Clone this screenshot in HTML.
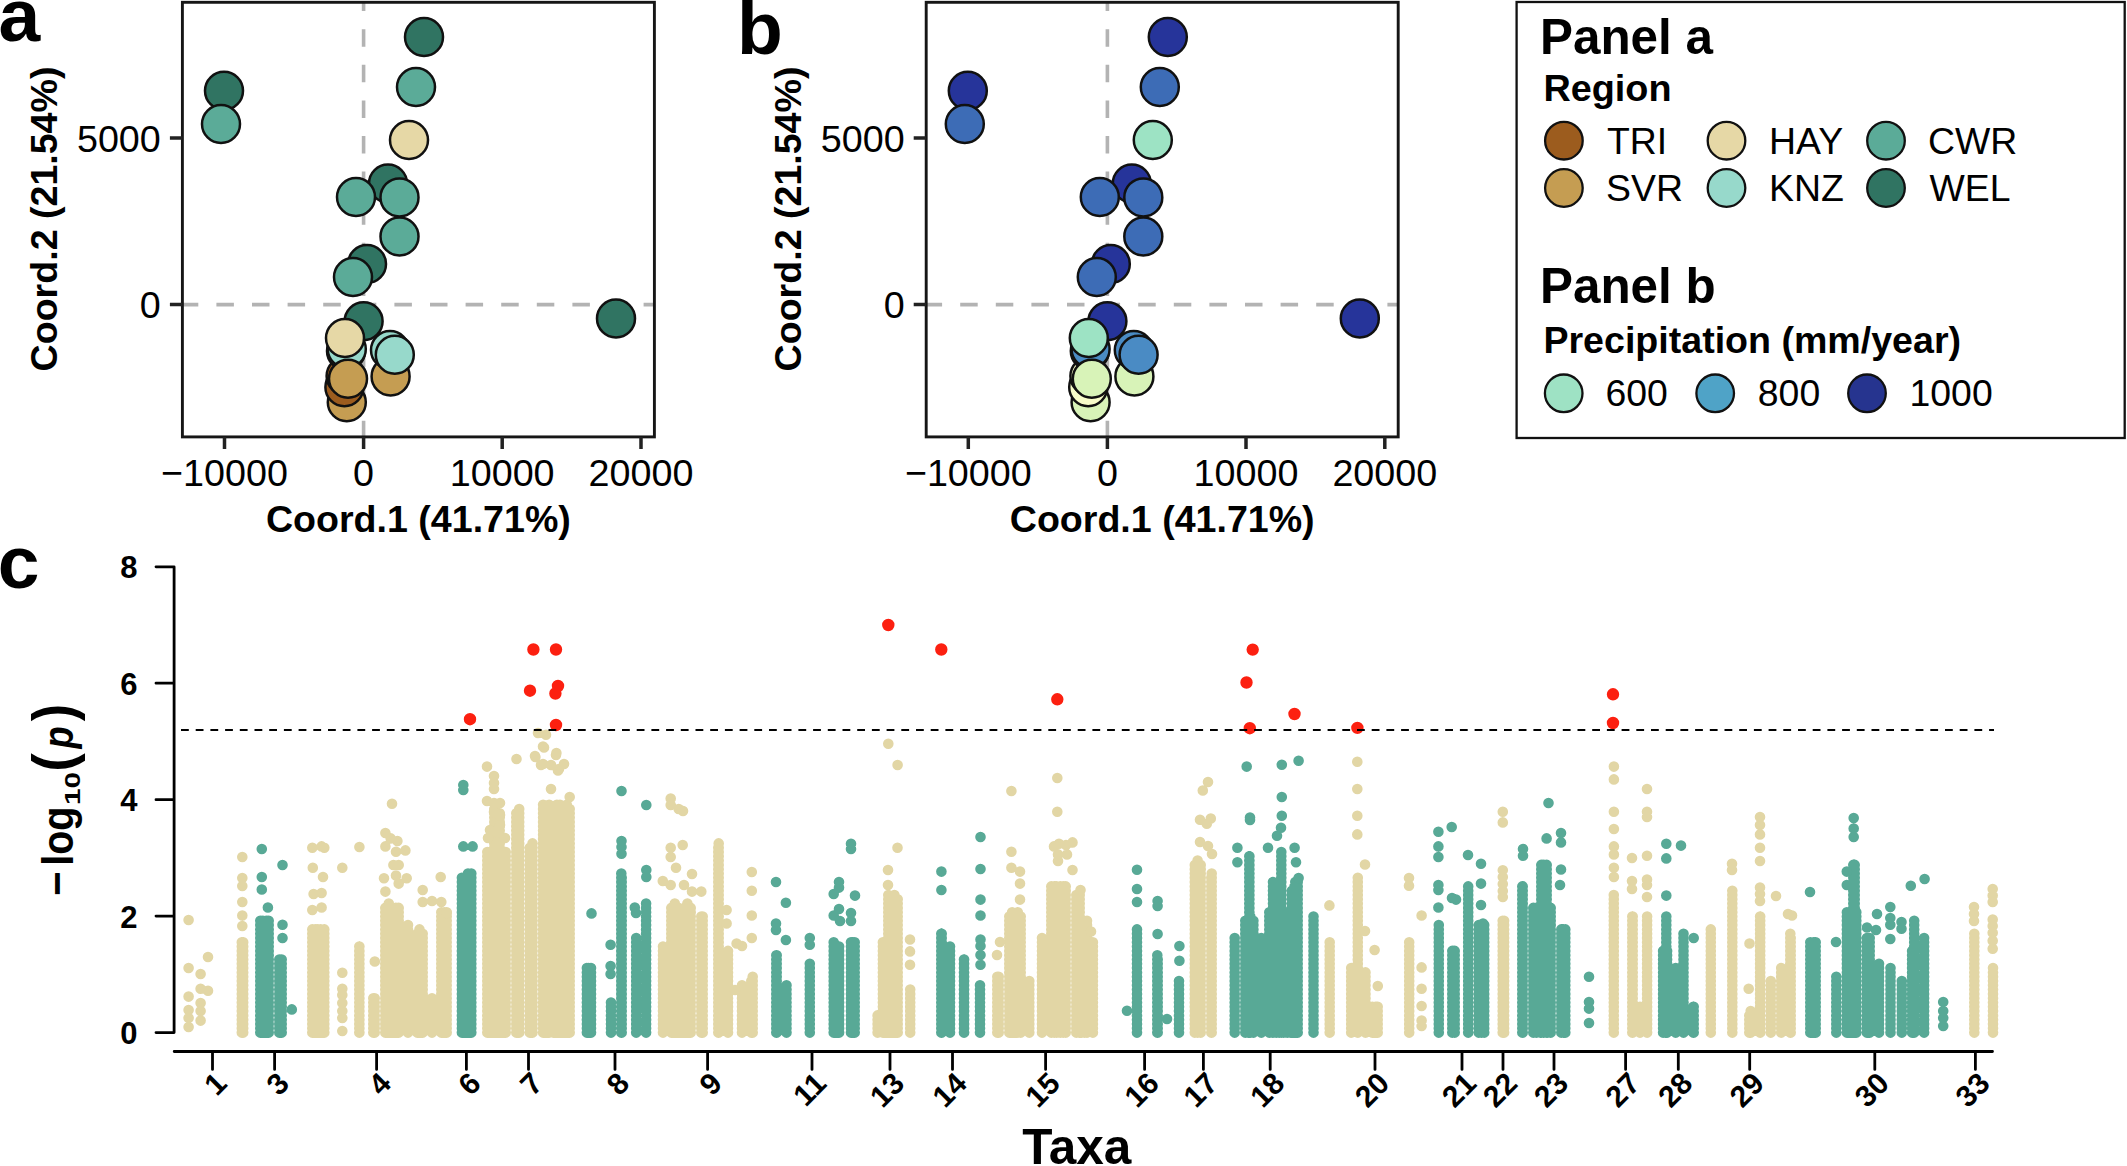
<!DOCTYPE html>
<html lang="en"><head><meta charset="utf-8"><title>Figure</title>
<style>html,body{margin:0;padding:0;background:#fff;overflow:hidden}svg{display:block}</style></head>
<body>
<svg width="2127" height="1166" viewBox="0 0 2127 1166" font-family='"Liberation Sans", sans-serif' fill="#000">
<rect width="2127" height="1166" fill="#fff"/>
<path d="M180.8 304.6H654.4M363.6 438.3V2.3" stroke="#b3b3b3" stroke-width="3.6" stroke-dasharray="17.5 18.1" fill="none"/>
<g stroke="#111" stroke-width="2.5">
<circle cx="346.8" cy="402.3" r="19" fill="#c59d52"/>
<circle cx="390.6" cy="376.4" r="19" fill="#c59d52"/>
<circle cx="344.4" cy="387.3" r="19" fill="#9c5c1e"/>
<circle cx="345.6" cy="376.0" r="19" fill="#9c5c1e"/>
<circle cx="346.0" cy="351.0" r="19" fill="#f3ecc8"/>
<circle cx="346.8" cy="349.0" r="19" fill="#97d9cb"/>
<circle cx="390.0" cy="350.0" r="19" fill="#97d9cb"/>
<circle cx="394.8" cy="354.8" r="19" fill="#97d9cb"/>
<circle cx="348.0" cy="378.8" r="19" fill="#c59d52"/>
<circle cx="363.6" cy="321.2" r="19" fill="#307462"/>
<circle cx="345.0" cy="338.0" r="19" fill="#e6d8a6"/>
<circle cx="616.0" cy="318.5" r="19" fill="#307462"/>
<circle cx="367.0" cy="264.0" r="19" fill="#307462"/>
<circle cx="353.0" cy="277.0" r="19" fill="#5bab98"/>
<circle cx="399.5" cy="236.5" r="19" fill="#5bab98"/>
<circle cx="388.0" cy="183.5" r="19" fill="#307462"/>
<circle cx="356.0" cy="197.0" r="19" fill="#5bab98"/>
<circle cx="399.5" cy="197.4" r="19" fill="#5bab98"/>
<circle cx="409.0" cy="140.0" r="19" fill="#e6d8a6"/>
<circle cx="416.0" cy="87.0" r="19" fill="#5bab98"/>
<circle cx="424.0" cy="37.0" r="19" fill="#307462"/>
<circle cx="224.0" cy="90.8" r="19" fill="#307462"/>
<circle cx="221.0" cy="124.0" r="19" fill="#5bab98"/>
</g>
<rect x="182.4" y="2.3" width="472.0" height="434.6" fill="none" stroke="#161616" stroke-width="2.9"/>
<path d="M224.5 436.9v12M363.6 436.9v12M502.2 436.9v12M641.0 436.9v12M182.4 138.0h-12.5M182.4 304.6h-12.5" stroke="#222" stroke-width="3.5" fill="none"/>
<g font-size="37.7" fill="#000">
<text x="224.5" y="485.5" text-anchor="middle">−10000</text>
<text x="363.6" y="485.5" text-anchor="middle">0</text>
<text x="502.2" y="485.5" text-anchor="middle">10000</text>
<text x="641.0" y="485.5" text-anchor="middle">20000</text>
<text x="160.8" y="151.5" text-anchor="end">5000</text>
<text x="160.8" y="318.1" text-anchor="end">0</text>
</g>
<text x="418.4" y="531.8" text-anchor="middle" font-size="37.6" font-weight="700">Coord.1 (41.71%)</text>
<text transform="translate(57.0 219) rotate(-90)" text-anchor="middle" font-size="37.6" font-weight="700">Coord.2 (21.54%)</text>
<text x="-1.5" y="40.7" font-size="75" font-weight="700">a</text>
<path d="M924.6 304.6H1398.1999999999998M1107.4 438.3V2.3" stroke="#b3b3b3" stroke-width="3.6" stroke-dasharray="17.5 18.1" fill="none"/>
<g stroke="#111" stroke-width="2.5">
<circle cx="1090.6" cy="402.3" r="19" fill="#d8f3b8"/>
<circle cx="1134.4" cy="376.4" r="19" fill="#d8f3b8"/>
<circle cx="1088.2" cy="387.3" r="19" fill="#f7fcc9"/>
<circle cx="1089.4" cy="376.0" r="19" fill="#f7fcc9"/>
<circle cx="1089.8" cy="351.0" r="19" fill="#c9efc0"/>
<circle cx="1090.6" cy="349.0" r="19" fill="#4a8bc4"/>
<circle cx="1133.8" cy="350.0" r="19" fill="#4a8bc4"/>
<circle cx="1138.6" cy="354.8" r="19" fill="#4a8bc4"/>
<circle cx="1091.8" cy="378.8" r="19" fill="#d8f3b8"/>
<circle cx="1107.4" cy="321.2" r="19" fill="#26349a"/>
<circle cx="1088.8" cy="338.0" r="19" fill="#9de3c4"/>
<circle cx="1359.8" cy="318.5" r="19" fill="#26349a"/>
<circle cx="1110.8" cy="264.0" r="19" fill="#26349a"/>
<circle cx="1096.8" cy="277.0" r="19" fill="#3d6cb6"/>
<circle cx="1143.3" cy="236.5" r="19" fill="#3d6cb6"/>
<circle cx="1131.8" cy="183.5" r="19" fill="#26349a"/>
<circle cx="1099.8" cy="197.0" r="19" fill="#3d6cb6"/>
<circle cx="1143.3" cy="197.4" r="19" fill="#3d6cb6"/>
<circle cx="1152.8" cy="140.0" r="19" fill="#9de3c4"/>
<circle cx="1159.8" cy="87.0" r="19" fill="#3d6cb6"/>
<circle cx="1167.8" cy="37.0" r="19" fill="#26349a"/>
<circle cx="967.8" cy="90.8" r="19" fill="#26349a"/>
<circle cx="964.8" cy="124.0" r="19" fill="#3d6cb6"/>
</g>
<rect x="926.1999999999999" y="2.3" width="472.0" height="434.6" fill="none" stroke="#161616" stroke-width="2.9"/>
<path d="M968.3 436.9v12M1107.4 436.9v12M1246.0 436.9v12M1384.8 436.9v12M926.1999999999999 138.0h-12.5M926.1999999999999 304.6h-12.5" stroke="#222" stroke-width="3.5" fill="none"/>
<g font-size="37.7" fill="#000">
<text x="968.3" y="485.5" text-anchor="middle">−10000</text>
<text x="1107.4" y="485.5" text-anchor="middle">0</text>
<text x="1246.0" y="485.5" text-anchor="middle">10000</text>
<text x="1384.8" y="485.5" text-anchor="middle">20000</text>
<text x="904.6" y="151.5" text-anchor="end">5000</text>
<text x="904.6" y="318.1" text-anchor="end">0</text>
</g>
<text x="1162.2" y="531.8" text-anchor="middle" font-size="37.6" font-weight="700">Coord.1 (41.71%)</text>
<text transform="translate(800.8 219) rotate(-90)" text-anchor="middle" font-size="37.6" font-weight="700">Coord.2 (21.54%)</text>
<text x="737" y="54.3" font-size="75" font-weight="700">b</text>
<rect x="1516.6" y="2" width="608.1" height="436" fill="#fff" stroke="#111" stroke-width="2.3"/>
<text x="1540" y="54.2" font-size="49.4" font-weight="700">Panel a</text>
<text x="1543.4" y="101" font-size="37.8" font-weight="700">Region</text>
<text x="1540" y="303" font-size="49.4" font-weight="700">Panel b</text>
<text x="1543.4" y="353" font-size="37.6" font-weight="700">Precipitation (mm/year)</text>
<g stroke="#111" stroke-width="2.3">
<circle cx="1563.9" cy="140.7" r="18.8" fill="#9c5c1e"/>
<circle cx="1563.9" cy="188" r="18.8" fill="#c59d52"/>
<circle cx="1726.5" cy="140.7" r="18.8" fill="#e6d8a6"/>
<circle cx="1726.5" cy="188" r="18.8" fill="#97d9cb"/>
<circle cx="1886" cy="140.7" r="18.8" fill="#5bab98"/>
<circle cx="1886" cy="188" r="18.8" fill="#307462"/>
<circle cx="1563.7" cy="393.3" r="18.8" fill="#9ee2c4"/>
<circle cx="1715.2" cy="393.3" r="18.8" fill="#4fa3c7"/>
<circle cx="1867" cy="393.3" r="18.8" fill="#26348f"/>
</g>
<g font-size="37.4">
<text x="1607" y="153.6">TRI</text>
<text x="1606" y="200.8">SVR</text>
<text x="1769" y="153.6">HAY</text>
<text x="1769" y="200.8">KNZ</text>
<text x="1928" y="153.6">CWR</text>
<text x="1929.5" y="200.8">WEL</text>
<text x="1605.5" y="406">600</text>
<text x="1757.8" y="406">800</text>
<text x="1909.5" y="406">1000</text>
</g>
<path d="M241.8 1032.6V941.7M243.2 1032.6V941.4M312.3 1032.6V929.1M315.3 1032.6V926.3M317.8 1032.6V928.2M320.7 1032.6V929.1M324.3 1032.6V928.7M359.3 1032.6V946.4M359.4 1032.6V946.5M373.3 1032.6V995.1M374.7 1032.6V996.0M385.3 1032.6V904.1M388.8 1032.6V903.4M392.1 1032.6V908.1M395.9 1032.6V904.5M398.7 1032.6V904.0M408.0 1032.6V924.0M417.3 1032.6V930.9M419.5 1032.6V929.2M422.7 1032.6V930.9M432.0 1032.6V995.9M441.3 1032.6V909.7M444.2 1032.6V911.1M446.7 1032.6V910.0M487.3 1032.6V851.4M489.8 1032.6V848.7M493.6 1032.6V849.6M496.3 1032.6V851.1M499.5 1032.6V852.1M503.0 1032.6V850.2M505.7 1032.6V851.7M494.3 1032.6V807.8M497.0 1032.6V809.0M499.7 1032.6V809.1M516.3 1032.6V809.8M519.2 1032.6V808.9M529.8 1032.6V844.3M532.5 1032.6V842.5M543.1 1032.6V803.6M546.0 1032.6V805.7M549.2 1032.6V804.0M553.4 1032.6V805.1M556.9 1032.6V804.5M560.0 1032.6V802.8M563.1 1032.6V804.7M566.8 1032.6V803.8M569.7 1032.6V804.7M663.0 1032.6V944.2M671.3 1032.6V906.1M674.8 1032.6V903.2M678.4 1032.6V907.0M680.7 1032.6V908.1M684.4 1032.6V905.3M687.4 1032.6V902.9M690.7 1032.6V905.1M701.3 1032.6V914.0M702.7 1032.6V913.9M718.3 1032.6V844.2M718.7 1032.6V843.0M728.0 1032.6V946.8M742.0 1032.6V984.1M751.3 1032.6V977.0M752.7 1032.6V975.5M877.6 1032.6V1013.8M882.9 1032.6V942.2M884.3 1032.6V942.9M888.3 1032.6V894.9M891.2 1032.6V896.9M894.4 1032.6V894.0M897.7 1032.6V895.1M910.2 1032.6V988.2M997.3 1032.6V973.3M998.7 1032.6V973.4M1009.3 1032.6V912.3M1012.1 1032.6V911.3M1014.7 1032.6V913.6M1017.8 1032.6V909.8M1020.7 1032.6V912.5M1029.3 1032.6V979.4M1042.0 1032.6V936.2M1051.3 1032.6V883.7M1054.3 1032.6V883.7M1056.5 1032.6V884.7M1060.3 1032.6V886.1M1063.2 1032.6V886.0M1065.7 1032.6V883.1M1076.3 1032.6V931.1M1079.3 1032.6V929.0M1081.4 1032.6V928.7M1084.7 1032.6V930.7M1076.3 1032.6V892.6M1079.7 1032.6V893.0M1087.0 1032.6V919.4M1092.9 1032.6V939.3M1194.8 1032.6V861.6M1197.6 1032.6V860.0M1200.7 1032.6V861.4M1211.3 1032.6V873.7M1211.7 1032.6V873.2M1329.7 1032.6V938.6M1357.8 1032.6V874.8M1351.2 1032.6V965.0M1365.5 1032.6V970.0M1372.3 1032.6V1002.5M1375.6 1032.6V1005.8M1377.7 1032.6V1003.2M1409.2 1032.6V939.3M1502.7 1032.6V917.4M1504.1 1032.6V917.4M1613.8 1032.6V894.0M1632.3 1032.6V912.3M1632.7 1032.6V913.5M1647.1 1032.6V914.6M1647.1 1032.6V914.3M1640.0 1032.6V1006.2M1710.8 1032.6V926.3M1732.3 1032.6V888.2M1749.3 1032.6V1011.4M1750.7 1032.6V1010.4M1760.1 1032.6V915.4M1760.2 1032.6V916.3M1770.8 1032.6V980.0M1781.2 1032.6V965.7M1790.3 1032.6V933.6M1790.7 1032.6V933.8M1974.3 1032.6V933.4M1993.0 1032.6V966.5" stroke="#e2d6a5" stroke-width="10.6" stroke-linecap="round" stroke-dasharray="0 4.3" fill="none"/>
<path d="M188.6 920.0h0M188.6 968.0h0M188.6 996.6h0M188.6 1010.0h0M188.6 1018.0h0M188.6 1027.0h0M200.6 974.0h0M200.6 988.7h0M200.6 1003.0h0M200.6 1011.0h0M200.6 1020.6h0M208.0 957.0h0M208.0 990.8h0M242.3 857.0h0M242.3 878.0h0M242.3 886.0h0M242.3 902.0h0M242.3 915.5h0M242.3 926.0h0M312.3 847.7h0M321.6 846.4h0M324.3 847.7h0M312.8 867.7h0M323.0 877.0h0M313.6 894.0h0M321.6 893.0h0M312.3 910.0h0M321.6 907.5h0M342.3 867.7h0M359.4 847.0h0M342.3 972.7h0M342.3 988.7h0M342.3 995.0h0M342.3 1003.0h0M342.3 1011.0h0M342.3 1018.0h0M342.3 1031.0h0M374.8 961.5h0M392.0 803.8h0M385.4 833.0h0M390.7 838.4h0M397.4 841.0h0M385.4 846.4h0M396.0 851.7h0M405.4 850.4h0M393.4 865.0h0M398.7 865.0h0M384.0 878.3h0M396.0 875.6h0M406.7 878.3h0M398.7 883.6h0M385.4 891.6h0M440.7 877.0h0M422.7 890.0h0M422.7 902.0h0M432.0 901.0h0M441.3 902.0h0M446.6 913.0h0M487.0 801.0h0M494.0 803.0h0M500.0 803.0h0M494.0 812.0h0M500.0 815.0h0M500.0 825.0h0M490.0 830.0h0M497.0 832.0h0M488.0 838.0h0M505.0 838.0h0M487.0 766.6h0M494.0 776.0h0M494.0 783.0h0M494.0 789.0h0M516.5 759.0h0M535.0 756.0h0M543.0 746.6h0M556.4 753.0h0M543.0 764.0h0M551.0 765.0h0M559.0 769.0h0M564.0 764.0h0M551.0 789.0h0M569.7 797.0h0M538.0 733.0h0M546.0 734.7h0M544.0 747.4h0M535.4 757.0h0M556.0 755.0h0M558.0 770.5h0M541.0 765.0h0M670.7 798.5h0M670.7 805.0h0M678.7 809.0h0M683.0 811.0h0M670.7 847.7h0M682.7 845.0h0M670.7 857.0h0M676.0 867.7h0M662.8 881.0h0M670.7 885.0h0M684.0 885.0h0M692.0 874.0h0M692.0 891.6h0M701.3 891.6h0M726.6 910.0h0M726.6 923.5h0M736.6 943.5h0M742.0 946.0h0M735.0 990.0h0M751.8 872.0h0M751.8 890.8h0M751.8 915.5h0M751.8 938.0h0M910.0 939.5h0M910.0 951.4h0M910.0 964.7h0M888.3 743.7h0M897.6 765.0h0M897.5 847.7h0M888.0 870.0h0M888.0 885.0h0M1000.0 942.0h0M997.0 955.0h0M1011.4 791.0h0M1011.4 851.7h0M1011.4 867.7h0M1020.0 871.6h0M1020.0 883.6h0M1020.0 899.6h0M1057.3 778.0h0M1057.3 811.8h0M1054.0 846.4h0M1059.0 843.7h0M1066.0 845.0h0M1072.5 842.4h0M1058.0 854.4h0M1067.0 854.4h0M1058.0 861.0h0M1072.5 870.0h0M1080.5 890.0h0M1091.0 931.5h0M1208.0 782.0h0M1202.8 790.5h0M1200.0 819.8h0M1210.8 818.5h0M1206.8 823.8h0M1200.0 842.0h0M1208.0 846.0h0M1212.0 854.0h0M1329.4 905.4h0M1357.3 761.8h0M1357.3 789.0h0M1357.3 815.8h0M1357.3 834.4h0M1365.0 864.5h0M1365.0 931.0h0M1374.6 950.0h0M1377.8 986.0h0M1409.0 878.0h0M1409.0 885.7h0M1421.6 915.5h0M1421.6 967.4h0M1421.6 988.7h0M1421.6 1006.0h0M1421.6 1020.6h0M1421.6 1026.0h0M1502.8 811.8h0M1502.8 822.4h0M1502.8 870.3h0M1502.8 877.0h0M1502.8 884.0h0M1502.8 891.0h0M1502.8 897.0h0M1613.9 766.6h0M1613.9 779.4h0M1613.9 811.8h0M1613.9 829.0h0M1613.9 846.4h0M1613.9 854.4h0M1613.9 867.7h0M1613.9 877.0h0M1632.0 858.0h0M1632.0 881.0h0M1632.0 889.0h0M1647.0 789.0h0M1647.0 811.8h0M1647.0 817.0h0M1647.0 855.7h0M1647.0 879.6h0M1647.0 885.0h0M1647.0 897.0h0M1732.0 863.7h0M1732.0 870.0h0M1749.5 943.5h0M1748.7 988.7h0M1776.0 896.0h0M1788.0 914.0h0M1792.0 915.5h0M1760.0 817.0h0M1760.0 825.0h0M1760.0 834.4h0M1760.0 847.7h0M1760.0 861.0h0M1760.0 887.6h0M1760.0 894.0h0M1760.0 901.0h0M1974.0 907.0h0M1974.0 914.0h0M1974.0 920.9h0M1992.7 889.0h0M1992.7 895.6h0M1992.7 902.0h0M1992.7 919.5h0M1992.7 926.0h0M1992.7 932.8h0M1992.7 940.8h0M1992.7 948.8h0" stroke="#e2d6a5" stroke-width="10.6" stroke-linecap="round" fill="none"/>
<path d="M260.3 1032.6V918.4M262.9 1032.6V920.4M266.3 1032.6V916.7M268.7 1032.6V919.3M279.3 1032.6V958.8M281.7 1032.6V958.7M461.9 1032.6V873.6M464.7 1032.6V874.8M468.0 1032.6V873.4M471.3 1032.6V872.1M586.9 1032.6V965.1M588.7 1032.6V964.8M591.0 1032.6V966.4M611.0 1032.6V998.9M621.3 1032.6V872.9M621.7 1032.6V873.9M636.2 1032.6V937.8M646.1 1032.6V900.2M776.3 1032.6V952.4M776.7 1032.6V952.1M786.5 1032.6V981.5M809.8 1032.6V962.7M833.7 1032.6V941.5M836.9 1032.6V943.2M839.1 1032.6V942.8M851.0 1032.6V939.3M853.2 1032.6V940.5M854.7 1032.6V938.5M941.3 1032.6V931.6M941.7 1032.6V932.1M950.0 1032.6V942.7M964.0 1032.6V958.6M964.1 1032.6V958.1M980.0 1032.6V981.4M1137.0 1032.6V926.8M1157.3 1032.6V955.0M1157.7 1032.6V955.9M1179.0 1032.6V980.2M1234.7 1032.6V933.9M1245.3 1032.6V918.0M1248.3 1032.6V921.4M1250.3 1032.6V916.3M1253.4 1032.6V917.5M1249.3 1032.6V852.5M1249.4 1032.6V852.3M1261.3 1032.6V935.6M1269.3 1032.6V911.0M1273.0 1032.6V913.7M1276.3 1032.6V909.6M1279.2 1032.6V908.2M1283.4 1032.6V913.6M1287.3 1032.6V910.7M1290.7 1032.6V910.1M1293.4 1032.6V912.7M1297.2 1032.6V909.8M1273.0 1032.6V877.9M1281.3 1032.6V848.5M1291.9 1032.6V886.5M1294.5 1032.6V885.0M1297.2 1032.6V885.6M1295.3 1032.6V881.7M1297.7 1032.6V880.6M1313.5 1032.6V915.2M1438.8 1032.6V923.5M1452.3 1032.6V948.1M1454.7 1032.6V947.1M1468.2 1032.6V884.1M1478.8 1032.6V922.3M1481.5 1032.6V922.8M1484.2 1032.6V921.3M1522.3 1032.6V883.2M1522.7 1032.6V882.7M1533.3 1032.6V903.9M1536.4 1032.6V907.1M1540.5 1032.6V905.0M1543.5 1032.6V905.5M1547.3 1032.6V905.3M1550.7 1032.6V905.5M1541.3 1032.6V861.5M1543.7 1032.6V862.9M1546.7 1032.6V861.9M1561.3 1032.6V926.7M1563.4 1032.6V926.5M1565.3 1032.6V926.7M1663.1 1032.6V948.1M1665.2 1032.6V947.2M1667.1 1032.6V947.3M1666.3 1032.6V912.8M1675.7 1032.6V965.7M1683.5 1032.6V931.2M1693.3 1032.6V1003.4M1693.7 1032.6V1003.3M1810.3 1032.6V939.2M1813.5 1032.6V939.8M1815.7 1032.6V939.2M1836.3 1032.6V974.8M1846.9 1032.6V910.4M1850.4 1032.6V913.4M1852.7 1032.6V908.2M1856.3 1032.6V910.2M1853.3 1032.6V861.4M1854.7 1032.6V861.8M1866.9 1032.6V935.9M1869.7 1032.6V937.1M1879.0 1032.6V960.9M1890.5 1032.6V964.1M1901.8 1032.6V978.6M1912.1 1032.6V950.5M1913.5 1032.6V950.4M1914.2 1032.6V920.1M1924.1 1032.6V937.6M1924.1 1032.6V937.7" stroke="#58a996" stroke-width="10.6" stroke-linecap="round" stroke-dasharray="0 4.3" fill="none"/>
<path d="M261.8 849.0h0M261.8 877.0h0M261.8 889.5h0M267.9 907.5h0M282.5 865.0h0M282.5 924.8h0M282.5 938.0h0M291.8 1009.4h0M463.3 785.0h0M463.3 790.0h0M463.3 846.4h0M472.6 846.4h0M591.5 913.4h0M610.6 944.8h0M610.6 966.0h0M610.6 974.0h0M621.5 841.0h0M621.5 847.0h0M621.5 853.7h0M621.5 791.0h0M634.8 907.5h0M636.0 913.0h0M646.3 870.0h0M646.3 877.0h0M646.3 805.0h0M776.0 882.0h0M776.0 923.5h0M776.0 930.0h0M785.9 902.8h0M785.9 940.0h0M809.8 938.0h0M809.8 944.8h0M839.0 882.0h0M839.0 887.6h0M833.7 894.0h0M839.0 909.0h0M833.7 915.5h0M840.0 921.0h0M851.0 843.7h0M851.0 849.0h0M855.0 895.6h0M851.0 913.0h0M851.0 921.0h0M941.4 871.6h0M941.4 890.0h0M980.5 837.0h0M980.5 869.0h0M980.5 899.6h0M980.5 915.5h0M980.5 939.5h0M980.5 946.0h0M980.5 955.0h0M980.5 964.7h0M1127.0 1010.7h0M1137.0 869.8h0M1137.0 889.0h0M1137.0 902.0h0M1157.6 901.0h0M1157.6 906.0h0M1157.6 934.0h0M1167.0 1019.0h0M1179.4 946.0h0M1179.4 960.7h0M1246.7 766.6h0M1281.8 764.7h0M1298.6 760.7h0M1281.8 797.0h0M1250.0 817.5h0M1250.0 820.0h0M1281.8 815.8h0M1281.0 827.8h0M1277.0 835.7h0M1237.4 847.7h0M1237.4 862.3h0M1268.0 847.7h0M1294.6 847.7h0M1296.0 862.3h0M1298.6 878.0h0M1438.4 831.8h0M1438.4 846.4h0M1438.4 857.0h0M1451.7 827.0h0M1438.4 885.0h0M1438.4 890.0h0M1438.4 907.5h0M1452.0 898.0h0M1456.0 899.6h0M1468.0 855.0h0M1481.0 863.7h0M1481.0 883.6h0M1481.0 905.0h0M1483.0 923.5h0M1523.0 849.0h0M1523.0 855.7h0M1548.5 803.0h0M1546.6 838.4h0M1561.0 833.0h0M1561.0 842.4h0M1561.0 869.5h0M1560.0 885.0h0M1589.0 976.7h0M1589.0 1002.0h0M1589.0 1008.6h0M1589.0 1023.0h0M1666.3 843.7h0M1666.3 858.4h0M1681.0 845.6h0M1666.3 895.6h0M1693.7 938.0h0M1810.0 892.0h0M1836.0 942.0h0M1853.7 818.0h0M1853.7 828.5h0M1853.7 837.0h0M1846.8 871.6h0M1846.8 885.0h0M1877.0 914.0h0M1867.0 927.5h0M1876.0 930.0h0M1901.5 922.0h0M1901.5 928.8h0M1910.8 885.7h0M1924.6 879.0h0M1890.3 907.0h0M1890.3 918.0h0M1890.3 924.8h0M1890.3 939.0h0M1943.2 1002.0h0M1943.2 1011.0h0M1943.2 1018.0h0M1943.2 1026.0h0" stroke="#58a996" stroke-width="10.6" stroke-linecap="round" fill="none"/>
<path d="M470.0 719.2h0M533.4 649.5h0M556.0 649.5h0M530.0 690.7h0M558.0 686.0h0M555.4 693.5h0M556.0 725.0h0M888.3 625.0h0M941.3 649.5h0M1057.3 699.3h0M1252.7 649.6h0M1246.5 682.5h0M1294.5 714.0h0M1249.8 728.2h0M1357.4 727.9h0M1613.0 694.3h0M1613.0 723.0h0" stroke="#fc2010" stroke-width="12.4" stroke-linecap="round" fill="none"/>
<path d="M181 730H1994" stroke="#000" stroke-width="1.8" stroke-dasharray="7.8 6.9" fill="none"/>
<path d="M174.1 566.8V1032.6M174.1 1032.6H156M174.1 916.1H156M174.1 799.7H156M174.1 683.2H156M174.1 566.8H156M174.2 1051.5H1992.5M212.5 1051.5V1069.4M274.6 1051.5V1069.4M376.6 1051.5V1069.4M466.4 1051.5V1069.4M528.5 1051.5V1069.4M615 1051.5V1069.4M707.6 1051.5V1069.4M812 1051.5V1069.4M890 1051.5V1069.4M952.5 1051.5V1069.4M1045.6 1051.5V1069.4M1144.6 1051.5V1069.4M1203.4 1051.5V1069.4M1270.2 1051.5V1069.4M1375 1051.5V1069.4M1462 1051.5V1069.4M1503 1051.5V1069.4M1554 1051.5V1069.4M1625.6 1051.5V1069.4M1678.3 1051.5V1069.4M1749.7 1051.5V1069.4M1874.8 1051.5V1069.4M1975.4 1051.5V1069.4" stroke="#000" stroke-width="2.8" stroke-linecap="round" fill="none"/>
<g font-size="31" font-weight="700">
<text x="137.5" y="1044.0" text-anchor="end">0</text>
<text x="137.5" y="927.5" text-anchor="end">2</text>
<text x="137.5" y="811.1" text-anchor="end">4</text>
<text x="137.5" y="694.6" text-anchor="end">6</text>
<text x="137.5" y="578.2" text-anchor="end">8</text>
</g>
<g font-size="30" font-weight="700" text-anchor="end">
<text transform="translate(213.3 1070) rotate(-45)" dy="0.72em">1</text>
<text transform="translate(275.4 1070) rotate(-45)" dy="0.72em">3</text>
<text transform="translate(377.4 1070) rotate(-45)" dy="0.72em">4</text>
<text transform="translate(467.2 1070) rotate(-45)" dy="0.72em">6</text>
<text transform="translate(529.3 1070) rotate(-45)" dy="0.72em">7</text>
<text transform="translate(615.8 1070) rotate(-45)" dy="0.72em">8</text>
<text transform="translate(708.4 1070) rotate(-45)" dy="0.72em">9</text>
<text transform="translate(812.8 1070) rotate(-45)" dy="0.72em">11</text>
<text transform="translate(890.8 1070) rotate(-45)" dy="0.72em">13</text>
<text transform="translate(953.3 1070) rotate(-45)" dy="0.72em">14</text>
<text transform="translate(1046.4 1070) rotate(-45)" dy="0.72em">15</text>
<text transform="translate(1145.4 1070) rotate(-45)" dy="0.72em">16</text>
<text transform="translate(1204.2 1070) rotate(-45)" dy="0.72em">17</text>
<text transform="translate(1271.0 1070) rotate(-45)" dy="0.72em">18</text>
<text transform="translate(1375.8 1070) rotate(-45)" dy="0.72em">20</text>
<text transform="translate(1462.8 1070) rotate(-45)" dy="0.72em">21</text>
<text transform="translate(1503.8 1070) rotate(-45)" dy="0.72em">22</text>
<text transform="translate(1554.8 1070) rotate(-45)" dy="0.72em">23</text>
<text transform="translate(1626.4 1070) rotate(-45)" dy="0.72em">27</text>
<text transform="translate(1679.1 1070) rotate(-45)" dy="0.72em">28</text>
<text transform="translate(1750.5 1070) rotate(-45)" dy="0.72em">29</text>
<text transform="translate(1875.6 1070) rotate(-45)" dy="0.72em">30</text>
<text transform="translate(1976.2 1070) rotate(-45)" dy="0.72em">33</text>
</g>
<text x="1076.8" y="1164.4" text-anchor="middle" font-size="49.5" font-weight="700">Taxa</text>
<text x="-2.2" y="587.9" font-size="75" font-weight="700">c</text>
<text transform="translate(71.52 895.88) rotate(-90) scale(0.963 1)" font-size="43.64" font-weight="700" font-style="normal">−</text>
<text transform="translate(72.76 865.77) rotate(-90) scale(0.909 1)" font-size="43.51" font-weight="700" font-style="normal">log</text>
<text transform="translate(79.88 804.98) rotate(-90) scale(1.343 1)" font-size="22.11" font-weight="700" font-style="normal">10</text>
<text transform="translate(72.65 771.80) rotate(-90) scale(0.985 1)" font-size="56.91" font-weight="700" font-style="normal">(</text>
<text transform="translate(72.97 748.47) rotate(-90) scale(0.858 1)" font-size="42.53" font-weight="700" font-style="italic">p</text>
<text transform="translate(72.65 721.20) rotate(-90) scale(0.922 1)" font-size="56.91" font-weight="700" font-style="normal">)</text>
</svg>
</body></html>
